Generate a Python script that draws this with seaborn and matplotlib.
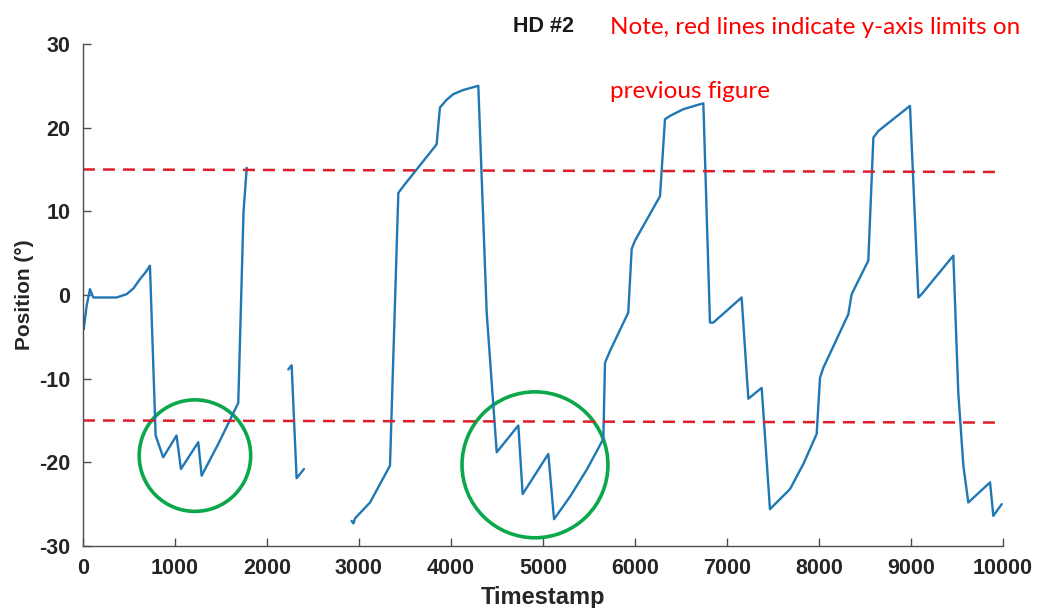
import numpy as np
import pandas as pd
import matplotlib
matplotlib.use("Agg")
import matplotlib.pyplot as plt
import seaborn as sns
from matplotlib.patches import Ellipse

# Position trace (three pieces, gaps between them)
seg1_t = [0, 8, 40, 76, 112, 366, 475, 550, 620, 680, 728, 790, 872, 1017, 1065, 1253, 1290,
          1480, 1688, 1745, 1780]
seg1_pos = [-2.9, -4.1, -1.3, 0.7, -0.3, -0.3, 0.1, 0.8, 1.9, 2.7, 3.5, -16.8, -19.4, -16.8,
            -20.8, -17.6, -21.6, -17.6, -12.9, 9.9, 15.2]

seg2_t = [2232, 2268, 2322, 2359, 2402]
seg2_pos = [-8.9, -8.4, -21.9, -21.4, -20.8]

seg3_t = [2920, 2940, 2957, 3120, 3337, 3428, 3482, 3844, 3880, 3950, 4025, 4134, 4297,
          4388, 4497, 4732, 4779, 5058, 5120, 5300, 5480, 5656, 5674, 5728, 5927, 5964,
          6000, 6272, 6326, 6380, 6525, 6707, 6743, 6815, 6851, 7159, 7232, 7377, 7467,
          7685, 7830, 7975, 8011, 8047, 8319, 8355, 8536, 8591, 8645, 8989, 9080, 9116,
          9460, 9514, 9569, 9623, 9859, 9895, 9986]
seg3_pos = [-27.0, -27.3, -26.7, -24.8, -20.4, 12.2, 13.0, 18.0, 22.4, 23.3, 24.0, 24.5, 25.0,
            -2.1, -18.8, -15.6, -23.8, -19.0, -26.8, -24.0, -20.8, -17.2, -8.1, -6.7, -2.1, 5.5,
            6.5, 11.8, 21.0, 21.4, 22.2, 22.8, 22.9, -3.3, -3.3, -0.3, -12.4, -11.1, -25.6,
            -23.2, -20.2, -16.6, -9.9, -8.7, -2.3, 0.1, 4.1, 18.8, 19.6, 22.6, -0.3, 0.1,
            4.7, -11.7, -20.4, -24.8, -22.4, -26.4, -25.0]

# red dashed limits of the previous figure (slightly tilted in the source)
upper_limit_t = [0, 10000]
upper_limit = [15.0, 14.7]
lower_limit_t = [0, 10000]
lower_limit = [-15.0, -15.25]

# green circles: centre (t, pos) and radius in timestamp units
circle_centres = [(1217, -19.2), (4913, -20.3)]
circle_radii = [606, 793]

df = pd.concat([
    pd.DataFrame({"Timestamp": seg1_t, "Position": seg1_pos, "seg": 1}),
    pd.DataFrame({"Timestamp": seg2_t, "Position": seg2_pos, "seg": 2}),
    pd.DataFrame({"Timestamp": seg3_t, "Position": seg3_pos, "seg": 3}),
])

sns.set_style("white")
plt.rcParams['font.family'] = ['Liberation Sans', 'DejaVu Sans']
plt.rcParams['axes.unicode_minus'] = False

fig = plt.figure(figsize=(10.41, 6.08), dpi=100)
ax = fig.add_axes([0.0797, 0.102, 0.8838, 0.8257])

sns.lineplot(data=df, x="Timestamp", y="Position", units="seg", estimator=None,
             sort=False, color="#1f77b4", linewidth=1.7, ax=ax)

red = "#dd1f2b"
ax.plot(upper_limit_t, upper_limit, color=red, linewidth=1.8, linestyle=(0, (4.8, 3.2)))
ax.plot(lower_limit_t, lower_limit, color=red, linewidth=1.8, linestyle=(0, (4.8, 3.2)))

ax.set_xlim(0, 10000)
ax.set_ylim(-30, 30)

# keep circles round on screen
bbox = ax.get_window_extent()
x_per_px = 10000 / bbox.width
y_per_px = 60 / bbox.height
for (cx, cy), r in zip(circle_centres, circle_radii):
    r_px = r / x_per_px
    ax.add_patch(Ellipse((cx, cy), 2 * r, 2 * r_px * y_per_px, fill=False,
                         edgecolor="#0aa84a", linewidth=2.6))

ax.set_xticks(np.arange(0, 10001, 1000))
ax.set_yticks(np.arange(-30, 31, 10))
ax.tick_params(bottom=True, left=True, direction="in", length=6, width=1,
               colors="#4d4d4d", labelcolor="#262626", labelsize=15.5)
ax.tick_params(axis="x", pad=9)
ax.tick_params(axis="y", pad=9)
for lab in ax.get_xticklabels() + ax.get_yticklabels():
    lab.set_fontweight("bold")

ax.set_xlabel("Timestamp", fontsize=17, fontweight="bold", color="#262626", labelpad=5)
ax.set_ylabel("Position (°)", fontsize=15, fontweight="bold", color="#262626", labelpad=4)

for s in ["top", "right"]:
    ax.spines[s].set_visible(False)
for s in ["left", "bottom"]:
    ax.spines[s].set_color("#4d4d4d")
    ax.spines[s].set_linewidth(1)

fig.text(0.522, 0.957, "HD #2", ha="center", va="center", fontsize=15.5,
         fontweight="bold", color="#1a1a1a")
fig.text(0.586, 0.955, "Note, red lines indicate y-axis limits on", ha="left",
         va="center", fontsize=17.5, color="red", family=["Lato", "DejaVu Sans"])
fig.text(0.586, 0.85, "previous figure", ha="left", va="center", fontsize=17.5,
         color="red", family=["Lato", "DejaVu Sans"])

fig.savefig("out.png", dpi=100)
